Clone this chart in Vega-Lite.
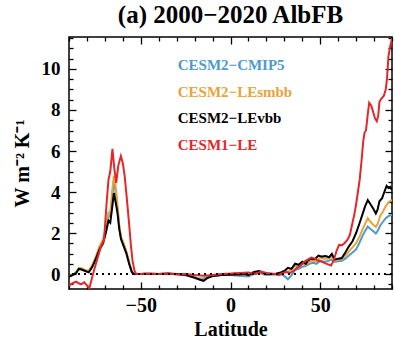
{
  "$schema": "https://vega.github.io/schema/vega-lite/v6.json",
  "width": 323,
  "height": 252,
  "autosize": "none",
  "padding": {"left": 69, "top": 37, "right": 3, "bottom": 57},
  "config": {
    "view": {"stroke": "#000", "strokeWidth": 1.5},
    "font": "Liberation Serif",
    "axis": {"grid": false, "labelFont": "Liberation Serif", "titleFont": "Liberation Serif", "labelFontWeight": "bold", "titleFontWeight": "bold", "labelColor": "#000", "titleColor": "#000", "tickColor": "#000", "tickWidth": 1.3, "ticks": true, "domain": false, "title": null}
  },
  "title": {
    "text": "(a) 2000−2020 AlbFB",
    "font": "Liberation Serif",
    "fontSize": 25,
    "fontWeight": "bold",
    "color": "#000",
    "anchor": "middle",
    "offset": 8
  },
  "datasets": {
    "series": [
      {"s": "CESM2-CMIP5", "lat": -90, "v": -0.1}, {"s": "CESM2-CMIP5", "lat": -88, "v": -0.05}, {"s": "CESM2-CMIP5", "lat": -86, "v": 0.1}, {"s": "CESM2-CMIP5", "lat": -84.5, "v": 0.28}, {"s": "CESM2-CMIP5", "lat": -83, "v": 0.25}, {"s": "CESM2-CMIP5", "lat": -81, "v": 0.18}, {"s": "CESM2-CMIP5", "lat": -79, "v": 0.12}, {"s": "CESM2-CMIP5", "lat": -77, "v": 0.4}, {"s": "CESM2-CMIP5", "lat": -75, "v": 0.8}, {"s": "CESM2-CMIP5", "lat": -73, "v": 1.3}, {"s": "CESM2-CMIP5", "lat": -71, "v": 1.6}, {"s": "CESM2-CMIP5", "lat": -69.5, "v": 2.1}, {"s": "CESM2-CMIP5", "lat": -68, "v": 2.85}, {"s": "CESM2-CMIP5", "lat": -67, "v": 2.8}, {"s": "CESM2-CMIP5", "lat": -66, "v": 3.7}, {"s": "CESM2-CMIP5", "lat": -65, "v": 4.5}, {"s": "CESM2-CMIP5", "lat": -64, "v": 4.0}, {"s": "CESM2-CMIP5", "lat": -63, "v": 3.2}, {"s": "CESM2-CMIP5", "lat": -62, "v": 2.3}, {"s": "CESM2-CMIP5", "lat": -61, "v": 1.75}, {"s": "CESM2-CMIP5", "lat": -59.5, "v": 1.45}, {"s": "CESM2-CMIP5", "lat": -58, "v": 1.05}, {"s": "CESM2-CMIP5", "lat": -56.5, "v": 0.55}, {"s": "CESM2-CMIP5", "lat": -55, "v": 0.1}, {"s": "CESM2-CMIP5", "lat": -54, "v": 0}, {"s": "CESM2-CMIP5", "lat": -50, "v": 0}, {"s": "CESM2-CMIP5", "lat": -40, "v": 0}, {"s": "CESM2-CMIP5", "lat": -30, "v": 0}, {"s": "CESM2-CMIP5", "lat": -25, "v": -0.05}, {"s": "CESM2-CMIP5", "lat": -20, "v": -0.15}, {"s": "CESM2-CMIP5", "lat": -18, "v": -0.22}, {"s": "CESM2-CMIP5", "lat": -15, "v": -0.2}, {"s": "CESM2-CMIP5", "lat": -12, "v": -0.12}, {"s": "CESM2-CMIP5", "lat": -8, "v": -0.08}, {"s": "CESM2-CMIP5", "lat": -5, "v": -0.05}, {"s": "CESM2-CMIP5", "lat": 0, "v": -0.05}, {"s": "CESM2-CMIP5", "lat": 5, "v": -0.08}, {"s": "CESM2-CMIP5", "lat": 10, "v": -0.12}, {"s": "CESM2-CMIP5", "lat": 13, "v": 0}, {"s": "CESM2-CMIP5", "lat": 16, "v": 0.05}, {"s": "CESM2-CMIP5", "lat": 20, "v": -0.05}, {"s": "CESM2-CMIP5", "lat": 25, "v": -0.02}, {"s": "CESM2-CMIP5", "lat": 28, "v": 0}, {"s": "CESM2-CMIP5", "lat": 30, "v": -0.1}, {"s": "CESM2-CMIP5", "lat": 32, "v": -0.26}, {"s": "CESM2-CMIP5", "lat": 34, "v": -0.05}, {"s": "CESM2-CMIP5", "lat": 36, "v": 0.2}, {"s": "CESM2-CMIP5", "lat": 38, "v": 0.25}, {"s": "CESM2-CMIP5", "lat": 40, "v": 0.35}, {"s": "CESM2-CMIP5", "lat": 42, "v": 0.4}, {"s": "CESM2-CMIP5", "lat": 44, "v": 0.5}, {"s": "CESM2-CMIP5", "lat": 46, "v": 0.55}, {"s": "CESM2-CMIP5", "lat": 48, "v": 0.5}, {"s": "CESM2-CMIP5", "lat": 50, "v": 0.65}, {"s": "CESM2-CMIP5", "lat": 52, "v": 0.6}, {"s": "CESM2-CMIP5", "lat": 54, "v": 0.62}, {"s": "CESM2-CMIP5", "lat": 56, "v": 0.7}, {"s": "CESM2-CMIP5", "lat": 58, "v": 0.6}, {"s": "CESM2-CMIP5", "lat": 60, "v": 0.62}, {"s": "CESM2-CMIP5", "lat": 62, "v": 0.65}, {"s": "CESM2-CMIP5", "lat": 64, "v": 0.75}, {"s": "CESM2-CMIP5", "lat": 66, "v": 0.9}, {"s": "CESM2-CMIP5", "lat": 68, "v": 1.05}, {"s": "CESM2-CMIP5", "lat": 70, "v": 1.2}, {"s": "CESM2-CMIP5", "lat": 72, "v": 1.55}, {"s": "CESM2-CMIP5", "lat": 73.5, "v": 1.85}, {"s": "CESM2-CMIP5", "lat": 75, "v": 2.1}, {"s": "CESM2-CMIP5", "lat": 76.5, "v": 2.32}, {"s": "CESM2-CMIP5", "lat": 78, "v": 2.2}, {"s": "CESM2-CMIP5", "lat": 79.5, "v": 2.1}, {"s": "CESM2-CMIP5", "lat": 81, "v": 1.98}, {"s": "CESM2-CMIP5", "lat": 82, "v": 2.1}, {"s": "CESM2-CMIP5", "lat": 83.5, "v": 2.38}, {"s": "CESM2-CMIP5", "lat": 85, "v": 2.55}, {"s": "CESM2-CMIP5", "lat": 86.5, "v": 2.72}, {"s": "CESM2-CMIP5", "lat": 88, "v": 2.82}, {"s": "CESM2-CMIP5", "lat": 90, "v": 2.9},

      {"s": "CESM2-LEsmbb", "lat": -90, "v": -0.1}, {"s": "CESM2-LEsmbb", "lat": -88, "v": -0.05}, {"s": "CESM2-LEsmbb", "lat": -86, "v": 0.1}, {"s": "CESM2-LEsmbb", "lat": -84.5, "v": 0.3}, {"s": "CESM2-LEsmbb", "lat": -83, "v": 0.28}, {"s": "CESM2-LEsmbb", "lat": -81, "v": 0.2}, {"s": "CESM2-LEsmbb", "lat": -79, "v": 0.15}, {"s": "CESM2-LEsmbb", "lat": -77, "v": 0.45}, {"s": "CESM2-LEsmbb", "lat": -75, "v": 0.85}, {"s": "CESM2-LEsmbb", "lat": -73, "v": 1.35}, {"s": "CESM2-LEsmbb", "lat": -71, "v": 1.7}, {"s": "CESM2-LEsmbb", "lat": -69.5, "v": 2.2}, {"s": "CESM2-LEsmbb", "lat": -68, "v": 3.0}, {"s": "CESM2-LEsmbb", "lat": -67, "v": 3.0}, {"s": "CESM2-LEsmbb", "lat": -66, "v": 4.0}, {"s": "CESM2-LEsmbb", "lat": -65, "v": 4.8}, {"s": "CESM2-LEsmbb", "lat": -64, "v": 4.3}, {"s": "CESM2-LEsmbb", "lat": -63, "v": 3.4}, {"s": "CESM2-LEsmbb", "lat": -62, "v": 2.4}, {"s": "CESM2-LEsmbb", "lat": -61, "v": 1.8}, {"s": "CESM2-LEsmbb", "lat": -59.5, "v": 1.5}, {"s": "CESM2-LEsmbb", "lat": -58, "v": 1.1}, {"s": "CESM2-LEsmbb", "lat": -56.5, "v": 0.6}, {"s": "CESM2-LEsmbb", "lat": -55, "v": 0.1}, {"s": "CESM2-LEsmbb", "lat": -54, "v": 0}, {"s": "CESM2-LEsmbb", "lat": -50, "v": 0}, {"s": "CESM2-LEsmbb", "lat": -40, "v": 0}, {"s": "CESM2-LEsmbb", "lat": -30, "v": 0}, {"s": "CESM2-LEsmbb", "lat": -25, "v": -0.03}, {"s": "CESM2-LEsmbb", "lat": -20, "v": -0.15}, {"s": "CESM2-LEsmbb", "lat": -17, "v": -0.25}, {"s": "CESM2-LEsmbb", "lat": -15, "v": -0.28}, {"s": "CESM2-LEsmbb", "lat": -13, "v": -0.18}, {"s": "CESM2-LEsmbb", "lat": -10, "v": -0.08}, {"s": "CESM2-LEsmbb", "lat": -5, "v": -0.04}, {"s": "CESM2-LEsmbb", "lat": 0, "v": -0.03}, {"s": "CESM2-LEsmbb", "lat": 5, "v": -0.03}, {"s": "CESM2-LEsmbb", "lat": 10, "v": -0.06}, {"s": "CESM2-LEsmbb", "lat": 13, "v": 0.05}, {"s": "CESM2-LEsmbb", "lat": 16, "v": 0.08}, {"s": "CESM2-LEsmbb", "lat": 20, "v": 0}, {"s": "CESM2-LEsmbb", "lat": 25, "v": 0}, {"s": "CESM2-LEsmbb", "lat": 28, "v": 0.05}, {"s": "CESM2-LEsmbb", "lat": 30, "v": 0.15}, {"s": "CESM2-LEsmbb", "lat": 32, "v": 0.1}, {"s": "CESM2-LEsmbb", "lat": 34, "v": 0.25}, {"s": "CESM2-LEsmbb", "lat": 36, "v": 0.4}, {"s": "CESM2-LEsmbb", "lat": 38, "v": 0.35}, {"s": "CESM2-LEsmbb", "lat": 40, "v": 0.5}, {"s": "CESM2-LEsmbb", "lat": 42, "v": 0.45}, {"s": "CESM2-LEsmbb", "lat": 44, "v": 0.6}, {"s": "CESM2-LEsmbb", "lat": 46, "v": 0.65}, {"s": "CESM2-LEsmbb", "lat": 48, "v": 0.6}, {"s": "CESM2-LEsmbb", "lat": 50, "v": 0.8}, {"s": "CESM2-LEsmbb", "lat": 52, "v": 0.75}, {"s": "CESM2-LEsmbb", "lat": 54, "v": 0.75}, {"s": "CESM2-LEsmbb", "lat": 56, "v": 0.85}, {"s": "CESM2-LEsmbb", "lat": 58, "v": 0.65}, {"s": "CESM2-LEsmbb", "lat": 60, "v": 0.7}, {"s": "CESM2-LEsmbb", "lat": 62, "v": 0.72}, {"s": "CESM2-LEsmbb", "lat": 64, "v": 0.9}, {"s": "CESM2-LEsmbb", "lat": 66, "v": 1.1}, {"s": "CESM2-LEsmbb", "lat": 68, "v": 1.3}, {"s": "CESM2-LEsmbb", "lat": 70, "v": 1.5}, {"s": "CESM2-LEsmbb", "lat": 72, "v": 1.85}, {"s": "CESM2-LEsmbb", "lat": 73.5, "v": 2.15}, {"s": "CESM2-LEsmbb", "lat": 75, "v": 2.45}, {"s": "CESM2-LEsmbb", "lat": 76.5, "v": 2.72}, {"s": "CESM2-LEsmbb", "lat": 78, "v": 2.55}, {"s": "CESM2-LEsmbb", "lat": 79.5, "v": 2.4}, {"s": "CESM2-LEsmbb", "lat": 81, "v": 2.3}, {"s": "CESM2-LEsmbb", "lat": 82, "v": 2.45}, {"s": "CESM2-LEsmbb", "lat": 83.5, "v": 2.85}, {"s": "CESM2-LEsmbb", "lat": 85, "v": 3.05}, {"s": "CESM2-LEsmbb", "lat": 86.5, "v": 3.3}, {"s": "CESM2-LEsmbb", "lat": 88, "v": 3.5}, {"s": "CESM2-LEsmbb", "lat": 89, "v": 3.55}, {"s": "CESM2-LEsmbb", "lat": 90, "v": 3.6},

      {"s": "CESM2-LEvbb", "lat": -90, "v": -0.12}, {"s": "CESM2-LEvbb", "lat": -88, "v": -0.05}, {"s": "CESM2-LEvbb", "lat": -86, "v": 0.05}, {"s": "CESM2-LEvbb", "lat": -84.5, "v": 0.25}, {"s": "CESM2-LEvbb", "lat": -83, "v": 0.22}, {"s": "CESM2-LEvbb", "lat": -81, "v": 0.15}, {"s": "CESM2-LEvbb", "lat": -79, "v": 0.08}, {"s": "CESM2-LEvbb", "lat": -77, "v": 0.35}, {"s": "CESM2-LEvbb", "lat": -75, "v": 0.75}, {"s": "CESM2-LEvbb", "lat": -73, "v": 1.2}, {"s": "CESM2-LEvbb", "lat": -71, "v": 1.5}, {"s": "CESM2-LEvbb", "lat": -69.5, "v": 2.0}, {"s": "CESM2-LEvbb", "lat": -68, "v": 2.6}, {"s": "CESM2-LEvbb", "lat": -67, "v": 2.5}, {"s": "CESM2-LEvbb", "lat": -66, "v": 3.2}, {"s": "CESM2-LEvbb", "lat": -65, "v": 3.95}, {"s": "CESM2-LEvbb", "lat": -64, "v": 3.5}, {"s": "CESM2-LEvbb", "lat": -63, "v": 3.0}, {"s": "CESM2-LEvbb", "lat": -62, "v": 2.2}, {"s": "CESM2-LEvbb", "lat": -61, "v": 1.7}, {"s": "CESM2-LEvbb", "lat": -59.5, "v": 1.35}, {"s": "CESM2-LEvbb", "lat": -58, "v": 1.0}, {"s": "CESM2-LEvbb", "lat": -56.5, "v": 0.5}, {"s": "CESM2-LEvbb", "lat": -55, "v": 0.1}, {"s": "CESM2-LEvbb", "lat": -54, "v": 0}, {"s": "CESM2-LEvbb", "lat": -50, "v": 0}, {"s": "CESM2-LEvbb", "lat": -45, "v": 0.01}, {"s": "CESM2-LEvbb", "lat": -40, "v": 0}, {"s": "CESM2-LEvbb", "lat": -35, "v": 0.02}, {"s": "CESM2-LEvbb", "lat": -30, "v": 0}, {"s": "CESM2-LEvbb", "lat": -25, "v": -0.05}, {"s": "CESM2-LEvbb", "lat": -20, "v": -0.18}, {"s": "CESM2-LEvbb", "lat": -17, "v": -0.28}, {"s": "CESM2-LEvbb", "lat": -15, "v": -0.33}, {"s": "CESM2-LEvbb", "lat": -13, "v": -0.2}, {"s": "CESM2-LEvbb", "lat": -10, "v": -0.1}, {"s": "CESM2-LEvbb", "lat": -5, "v": -0.05}, {"s": "CESM2-LEvbb", "lat": 0, "v": -0.03}, {"s": "CESM2-LEvbb", "lat": 5, "v": -0.02}, {"s": "CESM2-LEvbb", "lat": 8, "v": 0}, {"s": "CESM2-LEvbb", "lat": 10, "v": -0.05}, {"s": "CESM2-LEvbb", "lat": 13, "v": 0.1}, {"s": "CESM2-LEvbb", "lat": 16, "v": 0.15}, {"s": "CESM2-LEvbb", "lat": 19, "v": 0.02}, {"s": "CESM2-LEvbb", "lat": 22, "v": 0}, {"s": "CESM2-LEvbb", "lat": 25, "v": 0}, {"s": "CESM2-LEvbb", "lat": 28, "v": 0.08}, {"s": "CESM2-LEvbb", "lat": 30, "v": 0.15}, {"s": "CESM2-LEvbb", "lat": 32, "v": 0.3}, {"s": "CESM2-LEvbb", "lat": 34, "v": 0.25}, {"s": "CESM2-LEvbb", "lat": 36, "v": 0.5}, {"s": "CESM2-LEvbb", "lat": 38, "v": 0.45}, {"s": "CESM2-LEvbb", "lat": 40, "v": 0.6}, {"s": "CESM2-LEvbb", "lat": 42, "v": 0.5}, {"s": "CESM2-LEvbb", "lat": 43, "v": 0.65}, {"s": "CESM2-LEvbb", "lat": 45, "v": 0.75}, {"s": "CESM2-LEvbb", "lat": 47, "v": 0.72}, {"s": "CESM2-LEvbb", "lat": 49, "v": 0.9}, {"s": "CESM2-LEvbb", "lat": 51, "v": 0.85}, {"s": "CESM2-LEvbb", "lat": 53, "v": 0.88}, {"s": "CESM2-LEvbb", "lat": 55, "v": 0.82}, {"s": "CESM2-LEvbb", "lat": 56.5, "v": 0.98}, {"s": "CESM2-LEvbb", "lat": 58, "v": 0.7}, {"s": "CESM2-LEvbb", "lat": 60, "v": 0.75}, {"s": "CESM2-LEvbb", "lat": 62, "v": 0.78}, {"s": "CESM2-LEvbb", "lat": 64, "v": 1.05}, {"s": "CESM2-LEvbb", "lat": 66, "v": 1.35}, {"s": "CESM2-LEvbb", "lat": 68, "v": 1.6}, {"s": "CESM2-LEvbb", "lat": 70, "v": 2.0}, {"s": "CESM2-LEvbb", "lat": 72, "v": 2.5}, {"s": "CESM2-LEvbb", "lat": 73.5, "v": 2.9}, {"s": "CESM2-LEvbb", "lat": 75, "v": 3.3}, {"s": "CESM2-LEvbb", "lat": 76.5, "v": 3.6}, {"s": "CESM2-LEvbb", "lat": 78, "v": 3.4}, {"s": "CESM2-LEvbb", "lat": 79.5, "v": 3.2}, {"s": "CESM2-LEvbb", "lat": 81, "v": 2.95}, {"s": "CESM2-LEvbb", "lat": 82, "v": 3.15}, {"s": "CESM2-LEvbb", "lat": 83, "v": 3.55}, {"s": "CESM2-LEvbb", "lat": 84.5, "v": 3.7}, {"s": "CESM2-LEvbb", "lat": 85.5, "v": 3.95}, {"s": "CESM2-LEvbb", "lat": 87, "v": 4.3}, {"s": "CESM2-LEvbb", "lat": 88, "v": 4.2}, {"s": "CESM2-LEvbb", "lat": 89, "v": 4.25}, {"s": "CESM2-LEvbb", "lat": 90, "v": 4.1},

      {"s": "CESM1-LE", "lat": -90, "v": -0.55}, {"s": "CESM1-LE", "lat": -88, "v": -0.45}, {"s": "CESM1-LE", "lat": -86, "v": -0.37}, {"s": "CESM1-LE", "lat": -84.5, "v": -0.45}, {"s": "CESM1-LE", "lat": -83.3, "v": -0.5}, {"s": "CESM1-LE", "lat": -81.5, "v": -0.4}, {"s": "CESM1-LE", "lat": -80, "v": -0.55}, {"s": "CESM1-LE", "lat": -78.7, "v": -0.7}, {"s": "CESM1-LE", "lat": -77.5, "v": -0.3}, {"s": "CESM1-LE", "lat": -76, "v": 0.2}, {"s": "CESM1-LE", "lat": -74, "v": 0.8}, {"s": "CESM1-LE", "lat": -72.2, "v": 1.35}, {"s": "CESM1-LE", "lat": -70.5, "v": 1.65}, {"s": "CESM1-LE", "lat": -69, "v": 3.5}, {"s": "CESM1-LE", "lat": -68, "v": 4.6}, {"s": "CESM1-LE", "lat": -67, "v": 5.0}, {"s": "CESM1-LE", "lat": -65.8, "v": 6.1}, {"s": "CESM1-LE", "lat": -64.8, "v": 5.2}, {"s": "CESM1-LE", "lat": -63.7, "v": 4.45}, {"s": "CESM1-LE", "lat": -62.5, "v": 5.3}, {"s": "CESM1-LE", "lat": -61.1, "v": 5.75}, {"s": "CESM1-LE", "lat": -60, "v": 5.4}, {"s": "CESM1-LE", "lat": -59, "v": 4.8}, {"s": "CESM1-LE", "lat": -58, "v": 3.9}, {"s": "CESM1-LE", "lat": -56.5, "v": 2.45}, {"s": "CESM1-LE", "lat": -55.5, "v": 1.4}, {"s": "CESM1-LE", "lat": -54.6, "v": 0.65}, {"s": "CESM1-LE", "lat": -53.5, "v": 0.15}, {"s": "CESM1-LE", "lat": -52.5, "v": 0}, {"s": "CESM1-LE", "lat": -50, "v": 0}, {"s": "CESM1-LE", "lat": -48, "v": 0.02}, {"s": "CESM1-LE", "lat": -40, "v": 0}, {"s": "CESM1-LE", "lat": -35, "v": 0.02}, {"s": "CESM1-LE", "lat": -30, "v": -0.02}, {"s": "CESM1-LE", "lat": -25, "v": 0}, {"s": "CESM1-LE", "lat": -20, "v": -0.05}, {"s": "CESM1-LE", "lat": -15, "v": -0.08}, {"s": "CESM1-LE", "lat": -10, "v": -0.05}, {"s": "CESM1-LE", "lat": -5, "v": 0}, {"s": "CESM1-LE", "lat": 0, "v": 0.02}, {"s": "CESM1-LE", "lat": 5, "v": 0.05}, {"s": "CESM1-LE", "lat": 10, "v": 0.08}, {"s": "CESM1-LE", "lat": 14, "v": 0}, {"s": "CESM1-LE", "lat": 17, "v": 0.12}, {"s": "CESM1-LE", "lat": 20, "v": 0.05}, {"s": "CESM1-LE", "lat": 25, "v": 0}, {"s": "CESM1-LE", "lat": 27, "v": -0.05}, {"s": "CESM1-LE", "lat": 29, "v": 0.05}, {"s": "CESM1-LE", "lat": 31, "v": 0.1}, {"s": "CESM1-LE", "lat": 33, "v": 0.05}, {"s": "CESM1-LE", "lat": 35, "v": 0.15}, {"s": "CESM1-LE", "lat": 37, "v": 0.3}, {"s": "CESM1-LE", "lat": 39, "v": 0.4}, {"s": "CESM1-LE", "lat": 41, "v": 0.6}, {"s": "CESM1-LE", "lat": 43, "v": 0.7}, {"s": "CESM1-LE", "lat": 45, "v": 0.8}, {"s": "CESM1-LE", "lat": 47, "v": 0.75}, {"s": "CESM1-LE", "lat": 49, "v": 0.65}, {"s": "CESM1-LE", "lat": 51, "v": 0.6}, {"s": "CESM1-LE", "lat": 53, "v": 0.52}, {"s": "CESM1-LE", "lat": 55, "v": 0.45}, {"s": "CESM1-LE", "lat": 56, "v": 0.42}, {"s": "CESM1-LE", "lat": 57.5, "v": 0.65}, {"s": "CESM1-LE", "lat": 59, "v": 1.1}, {"s": "CESM1-LE", "lat": 60.5, "v": 1.42}, {"s": "CESM1-LE", "lat": 62, "v": 1.4}, {"s": "CESM1-LE", "lat": 63.5, "v": 1.5}, {"s": "CESM1-LE", "lat": 65, "v": 1.65}, {"s": "CESM1-LE", "lat": 66.5, "v": 1.9}, {"s": "CESM1-LE", "lat": 68, "v": 2.5}, {"s": "CESM1-LE", "lat": 69, "v": 2.9}, {"s": "CESM1-LE", "lat": 70, "v": 3.4}, {"s": "CESM1-LE", "lat": 71, "v": 4.0}, {"s": "CESM1-LE", "lat": 72, "v": 4.6}, {"s": "CESM1-LE", "lat": 73, "v": 5.5}, {"s": "CESM1-LE", "lat": 74, "v": 6.5}, {"s": "CESM1-LE", "lat": 74.7, "v": 6.9}, {"s": "CESM1-LE", "lat": 75.5, "v": 7.0}, {"s": "CESM1-LE", "lat": 76.5, "v": 7.8}, {"s": "CESM1-LE", "lat": 77.3, "v": 8.35}, {"s": "CESM1-LE", "lat": 78.5, "v": 8.2}, {"s": "CESM1-LE", "lat": 79.5, "v": 7.9}, {"s": "CESM1-LE", "lat": 80.5, "v": 7.6}, {"s": "CESM1-LE", "lat": 81.5, "v": 7.45}, {"s": "CESM1-LE", "lat": 82.3, "v": 7.7}, {"s": "CESM1-LE", "lat": 83, "v": 8.4}, {"s": "CESM1-LE", "lat": 84, "v": 8.55}, {"s": "CESM1-LE", "lat": 85.5, "v": 8.7}, {"s": "CESM1-LE", "lat": 86.5, "v": 9.0}, {"s": "CESM1-LE", "lat": 87.2, "v": 9.5}, {"s": "CESM1-LE", "lat": 88, "v": 10.6}, {"s": "CESM1-LE", "lat": 89, "v": 11.1}, {"s": "CESM1-LE", "lat": 90, "v": 11.5}
    ],
    "labels": [
      {"s": "CESM2-CMIP5", "t": "CESM2−CMIP5", "lat": -29.4, "v": 10.2},
      {"s": "CESM2-LEsmbb", "t": "CESM2−LEsmbb", "lat": -29.4, "v": 8.88},
      {"s": "CESM2-LEvbb", "t": "CESM2−LEvbb", "lat": -29.4, "v": 7.61},
      {"s": "CESM1-LE", "t": "CESM1−LE", "lat": -29.4, "v": 6.29}
    ],
    "zero": [{"v": 0}]
  },
  "resolve": {"axis": {"x": "independent", "y": "independent"}},
  "layer": [
    {
      "data": {"name": "series"},
      "mark": {"type": "line", "strokeWidth": 2, "clip": true, "interpolate": "linear"},
      "encoding": {
        "x": {"field": "lat", "type": "quantitative",
          "scale": {"domain": [-90, 90], "nice": false, "zero": false},
          "axis": {"orient": "bottom", "values": [-50, 0, 50], "tickSize": 7, "offset": -7,
            "labelFont": "Liberation Serif", "labelFontWeight": "bold", "labelFontSize": 20, "labelPadding": 6,
            "title": "Latitude", "titleFont": "Liberation Serif", "titleFontWeight": "bold", "titleFontSize": 20, "titlePadding": 4}},
        "y": {"field": "v", "type": "quantitative",
          "scale": {"domain": [-0.73, 11.56], "nice": false, "zero": false},
          "axis": {"orient": "left", "values": [0, 2, 4, 6, 8, 10], "tickSize": 7, "offset": -7, "format": "d",
            "labelFont": "Liberation Serif", "labelFontWeight": "bold", "labelFontSize": 19, "labelPadding": 9,
            "title": "W m⁻² K⁻¹", "titleFont": "Liberation Serif", "titleFontWeight": "bold", "titleFontSize": 20, "titlePadding": 9}},
        "color": {"field": "s", "type": "nominal",
          "scale": {"domain": ["CESM2-CMIP5", "CESM2-LEsmbb", "CESM2-LEvbb", "CESM1-LE"], "range": ["#4e9bcb", "#e8a33a", "#000000", "#e3272a"]},
          "legend": null}
      }
    },
    {
      "data": {"name": "labels"},
      "mark": {"type": "text", "align": "left", "baseline": "middle", "font": "Liberation Serif", "fontWeight": "bold", "fontSize": 15},
      "encoding": {
        "x": {"field": "lat", "type": "quantitative",
          "axis": {"orient": "top", "values": [-50, 0, 50], "tickSize": 7, "offset": -7, "labels": false}},
        "y": {"field": "v", "type": "quantitative",
          "axis": {"orient": "right", "values": [0, 2, 4, 6, 8, 10], "tickSize": 7, "offset": -7, "labels": false}},
        "text": {"field": "t"},
        "color": {"field": "s", "type": "nominal", "legend": null}
      }
    },
    {
      "data": {"name": "zero"},
      "mark": {"type": "rule", "strokeDash": [2, 4], "strokeWidth": 2, "color": "#000"},
      "encoding": {
        "y": {"field": "v", "type": "quantitative",
          "axis": {"orient": "left", "values": [-0.5,0.5,1,1.5,2.5,3,3.5,4.5,5,5.5,6.5,7,7.5,8.5,9,9.5,10.5,11,11.5], "tickSize": 4, "offset": -4, "labels": false}}
      }
    },
    {
      "data": {"name": "labels"},
      "mark": {"type": "point", "opacity": 0},
      "encoding": {
        "x": {"field": "lat", "type": "quantitative",
          "axis": {"orient": "bottom", "values": [-90,-80,-70,-60,-40,-30,-20,-10,10,20,30,40,60,70,80,90], "tickSize": 4, "offset": -4, "labels": false}},
        "y": {"field": "v", "type": "quantitative",
          "axis": {"orient": "right", "values": [-0.5,0.5,1,1.5,2.5,3,3.5,4.5,5,5.5,6.5,7,7.5,8.5,9,9.5,10.5,11,11.5], "tickSize": 4, "offset": -4, "labels": false}}
      }
    },
    {
      "data": {"name": "labels"},
      "mark": {"type": "point", "opacity": 0},
      "encoding": {
        "x": {"field": "lat", "type": "quantitative",
          "axis": {"orient": "top", "values": [-90,-80,-70,-60,-40,-30,-20,-10,10,20,30,40,60,70,80,90], "tickSize": 4, "offset": -4, "labels": false}},
        "y": {"field": "v", "type": "quantitative", "axis": null}
      }
    }
  ]
}
